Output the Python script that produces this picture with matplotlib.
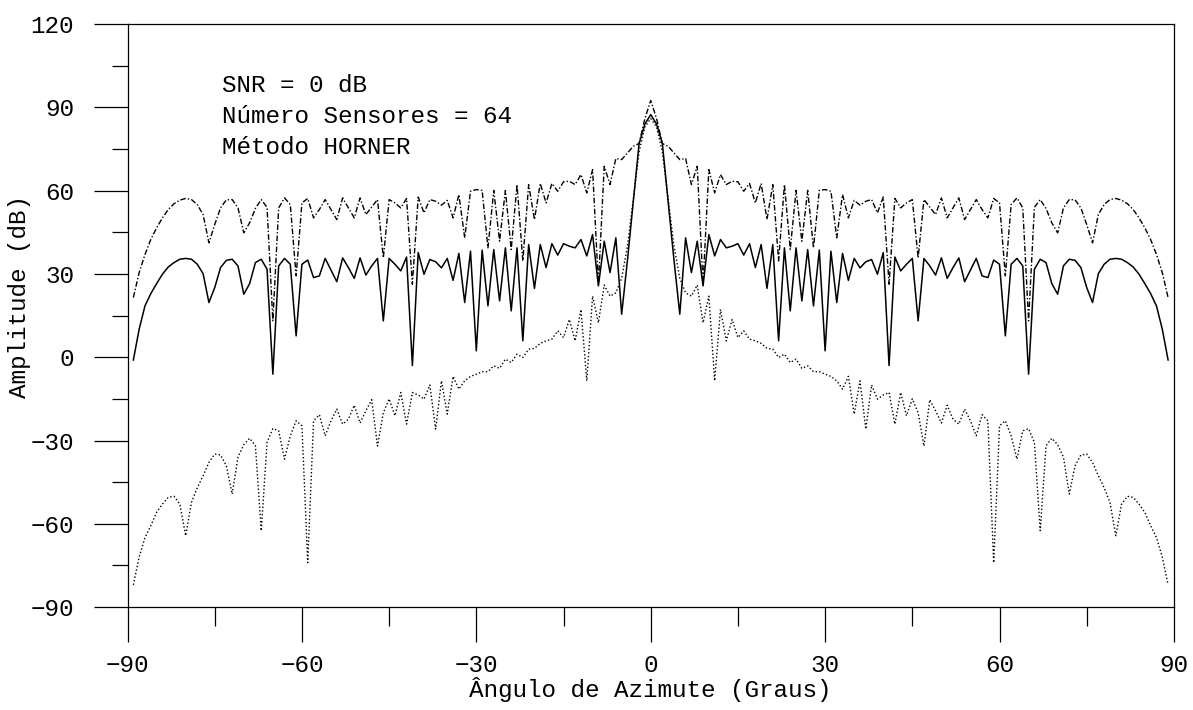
import matplotlib
matplotlib.use("Agg")
import matplotlib.pyplot as plt
from matplotlib.ticker import MultipleLocator

plt.rcParams["font.family"] = ["Liberation Mono", "DejaVu Sans Mono"]

# azimuth grid, one sample per degree
angles = list(range(-89, 90))

# beam pattern amplitudes in dB
solid_db = [
    -1.0, 10.1, 18.5, 22.9, 26.5, 29.9, 32.5, 34.1, 35.3, 35.6,
    35.3, 33.5, 30.1, 19.7, 25.1, 32.3, 34.9, 35.3, 32.9, 22.7,
    26.5, 34.1, 35.3, 31.7, -6.1, 32.9, 35.6, 33.5, 7.7, 33.5,
    35.0, 28.7, 29.3, 35.6, 31.4, 27.2, 35.8, 32.3, 28.4, 35.8,
    29.6, 32.9, 35.6, 13.1, 35.6, 33.5, 31.1, 36.1, -3.0, 37.7,
    29.9, 35.2, 34.4, 32.2, 35.6, 27.7, 37.4, 19.7, 38.2, 2.3,
    38.6, 18.5, 38.8, 20.3, 39.4, 16.7, 39.4, 5.9, 40.6, 24.8,
    40.6, 32.3, 40.9, 36.8, 40.9, 40.0, 39.4, 42.4, 36.5, 44.2,
    25.7, 41.8, 30.5, 43.0, 15.5, 35, 56, 77, 84,
    87.4,
    84, 77, 56, 35, 15.5, 43.0, 30.5, 41.8, 25.7,
    44.2, 36.5, 42.4, 39.4, 40.0, 40.9, 36.8, 40.9, 32.3, 40.6,
    24.8, 40.6, 5.9, 39.4, 16.7, 39.4, 20.3, 38.8, 18.5, 38.6,
    2.3, 38.2, 19.7, 37.4, 27.7, 35.6, 32.2, 34.4, 35.2, 29.9,
    37.7, -3.0, 36.1, 31.1, 33.5, 35.6, 13.1, 35.6, 32.9, 29.6,
    35.8, 28.4, 32.3, 35.8, 27.2, 31.4, 35.6, 29.3, 28.7, 35.0,
    33.5, 7.7, 33.5, 35.6, 32.9, -6.1, 31.7, 35.3, 34.1, 26.5,
    22.7, 32.9, 35.3, 34.9, 32.3, 25.1, 19.7, 30.1, 33.5, 35.3,
    35.6, 35.3, 34.1, 32.5, 29.9, 26.5, 22.9, 18.5, 10.1, -1.0,
]

dashdot_db = [
    21.5, 30.5, 37.0, 42.4, 46.6, 50.2, 53.2, 55.3, 56.6, 57.2,
    56.8, 55.0, 51.4, 41.2, 47.8, 53.8, 56.7, 56.8, 53.8, 44.8,
    48.4, 53.6, 56.8, 54.0, 13.1, 53.8, 57.4, 55.0, 29.3, 55.6,
    57.2, 50.2, 53.2, 56.8, 53.2, 49.6, 57.4, 53.8, 50.2, 57.4,
    51.4, 54.1, 56.8, 35.8, 56.8, 55.6, 53.8, 57.2, 26.3, 57.7,
    52.0, 56.8, 56.2, 54.8, 56.5, 50.2, 58.6, 43.0, 59.8, 60.4,
    60.1, 39.4, 60.1, 41.8, 60.1, 38.8, 62.2, 34.7, 62.2, 49.6,
    62.6, 55.6, 62.6, 59.8, 63.2, 63.4, 62.2, 65.8, 59.2, 67.6,
    26.3, 68.8, 62.2, 71.6, 71.2, 73.6, 76, 77, 86,
    92.5,
    86, 77, 76, 73.6, 71.2, 71.6, 62.2, 68.8, 26.3,
    67.6, 59.2, 65.8, 62.2, 63.4, 63.2, 59.8, 62.6, 55.6, 62.6,
    49.6, 62.2, 34.7, 62.2, 38.8, 60.1, 41.8, 60.1, 39.4, 60.1,
    60.4, 59.8, 43.0, 58.6, 50.2, 56.5, 54.8, 56.2, 56.8, 52.0,
    57.7, 26.3, 57.2, 53.8, 55.6, 56.8, 35.8, 56.8, 54.1, 51.4,
    57.4, 50.2, 53.8, 57.4, 49.6, 53.2, 56.8, 53.2, 50.2, 57.2,
    55.6, 29.3, 55.0, 57.4, 53.8, 13.1, 54.0, 56.8, 53.6, 48.4,
    44.8, 53.8, 56.8, 56.7, 53.8, 47.8, 41.2, 51.4, 55.0, 56.8,
    57.2, 56.6, 55.3, 53.2, 50.2, 46.6, 42.4, 37.0, 30.5, 21.5,
]

dotted_db = [
    -82.0, -72.0, -65.0, -60.7, -55.9, -52.9, -50.5, -50.1, -52.9, -64.3,
    -52.3, -47.0, -42.7, -37.9, -34.9, -35.2, -39.1, -49.3, -36.0, -31.5,
    -29.2, -31.9, -62.5, -30.7, -25.7, -26.5, -36.7, -28.3, -22.9, -24.7,
    -74.0, -22.9, -20.7, -28.3, -22.9, -18.7, -24.1, -22.3, -17.3, -23.7,
    -19.3, -15.3, -32.0, -20.0, -15.0, -21.1, -12.7, -24.1, -12.7, -13.6,
    -15.1, -10.0, -25.9, -8.5, -20.5, -6.9, -11.5, -8.5, -6.9, -6.1,
    -5.2, -5.2, -3.1, -4.0, -0.7, -1.9, 1.1, -0.1, 2.9, 3.2,
    5.0, 5.9, 6.5, 9.5, 7.1, 13.6, 5.9, 17.2, -8.5, 22.0,
    12.4, 26.0, 22.0, 23.2, 28.5, 40, 57, 74, 83,
    86,
    83, 74, 57, 40, 28.5, 23.2, 22.0, 26.0, 12.4,
    22.0, -8.5, 17.2, 5.9, 13.6, 7.1, 9.5, 6.5, 5.9, 5.0,
    3.2, 2.9, -0.1, 1.1, -1.9, -0.7, -4.0, -3.1, -5.2, -5.2,
    -6.1, -6.9, -8.5, -11.5, -6.9, -20.5, -8.5, -25.9, -10.0, -15.1,
    -13.6, -12.7, -24.1, -12.7, -21.1, -15.0, -20.0, -32.0, -15.3, -19.3,
    -23.7, -17.3, -22.3, -24.1, -18.7, -22.9, -28.3, -20.7, -22.9, -74.0,
    -24.7, -22.9, -28.3, -36.7, -26.5, -25.7, -30.7, -62.5, -31.9, -29.2,
    -31.5, -36.0, -49.3, -39.1, -35.2, -34.9, -37.9, -42.7, -47.0, -52.3,
    -64.3, -52.9, -50.1, -50.5, -52.9, -55.9, -60.7, -65.0, -72.0, -82.0,
]

info_lines = ["SNR = 0 dB", "Número Sensores = 64", "Método HORNER"]

fig = plt.figure(figsize=(11.93, 7.10), dpi=100)
ax = fig.add_axes([0.1069, 0.145, 0.8771, 0.821])

ax.plot(angles, solid_db, color="black", lw=1.1)
ax.plot(angles, dashdot_db, color="black", lw=1.0, dashes=(4, 1.5, 1, 1.5))
ax.plot(angles, dotted_db, color="black", lw=1.0, dashes=(1, 1.6))

ax.set_xlim(-90, 90)
ax.set_ylim(-90, 120)
ax.xaxis.set_major_locator(MultipleLocator(30))
ax.xaxis.set_minor_locator(MultipleLocator(15))
ax.yaxis.set_major_locator(MultipleLocator(30))
ax.yaxis.set_minor_locator(MultipleLocator(15))

ax.tick_params(which="both", direction="out", width=0.9, color="black")
ax.tick_params(axis="x", which="major", length=25, pad=9, labelsize=17.5)
ax.tick_params(axis="x", which="minor", length=13.5)
ax.tick_params(axis="y", which="major", length=24.5, pad=14, labelsize=17.5)
ax.tick_params(axis="y", which="minor", length=11.5)

for s in ax.spines.values():
    s.set_linewidth(0.9)

ax.set_xlabel("Ângulo de Azimute (Graus)", fontsize=17.5, labelpad=0)
ax.set_ylabel("Amplitude (dB)", fontsize=17.5)
ax.yaxis.set_label_coords(-0.092, 0.532)

for i, line in enumerate(info_lines):
    fig.text(222 / 1193, 1 - (92 + 31 * i) / 710, line, fontsize=17.5,
             va="baseline", ha="left")

fig.savefig("out.png", dpi=100)
